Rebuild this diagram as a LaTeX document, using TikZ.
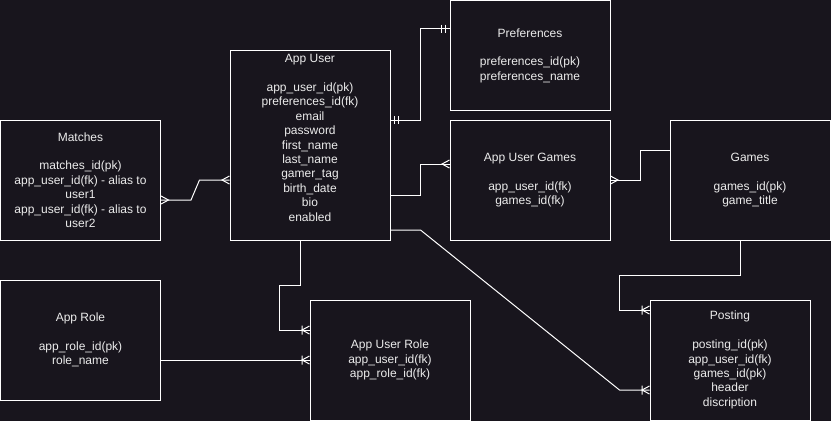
\documentclass[tikz,border=0pt]{standalone}
\usepackage{fontspec}
\setmainfont{Liberation Sans}
\definecolor{bgdark}{RGB}{24,21,29}
\definecolor{textc}{RGB}{236,236,236}

% ER line ends
\pgfdeclarearrow{
  name = crow,
  setup code = {
    \pgfarrowssettipend{0pt}
    \pgfarrowssetlineend{0pt}
    \pgfarrowssetbackend{-8pt}
    \pgfarrowshullpoint{0pt}{4pt}
    \pgfarrowshullpoint{0pt}{-4pt}
    \pgfarrowshullpoint{-8pt}{0pt}
  },
  drawing code = {
    \pgfpathmoveto{\pgfqpoint{0pt}{4pt}}
    \pgfpathlineto{\pgfqpoint{-7.5pt}{0pt}}
    \pgfpathlineto{\pgfqpoint{0pt}{-4pt}}
    \pgfusepathqstroke
  }
}
\pgfdeclarearrow{
  name = crowbar,
  setup code = {
    \pgfarrowssettipend{0pt}
    \pgfarrowssetlineend{0pt}
    \pgfarrowssetbackend{-9pt}
    \pgfarrowshullpoint{0pt}{5pt}
    \pgfarrowshullpoint{0pt}{-5pt}
    \pgfarrowshullpoint{-8pt}{5pt}
    \pgfarrowshullpoint{-8pt}{-5pt}
  },
  drawing code = {
    \pgfpathmoveto{\pgfqpoint{0pt}{4pt}}
    \pgfpathlineto{\pgfqpoint{-7.5pt}{0pt}}
    \pgfpathlineto{\pgfqpoint{0pt}{-4pt}}
    \pgfpathmoveto{\pgfqpoint{-7.5pt}{4.5pt}}
    \pgfpathlineto{\pgfqpoint{-7.5pt}{-4.5pt}}
    \pgfusepathqstroke
  }
}
\pgfdeclarearrow{
  name = mone,
  setup code = {
    \pgfarrowssettipend{0pt}
    \pgfarrowssetlineend{0pt}
    \pgfarrowssetbackend{-9pt}
    \pgfarrowshullpoint{0pt}{5pt}
    \pgfarrowshullpoint{0pt}{-5pt}
    \pgfarrowshullpoint{-8pt}{5pt}
    \pgfarrowshullpoint{-8pt}{-5pt}
  },
  drawing code = {
    \pgfpathmoveto{\pgfqpoint{-3.8pt}{4pt}}
    \pgfpathlineto{\pgfqpoint{-3.8pt}{-4pt}}
    \pgfpathmoveto{\pgfqpoint{-7.8pt}{4pt}}
    \pgfpathlineto{\pgfqpoint{-7.8pt}{-4pt}}
    \pgfusepathqstroke
  }
}

\begin{document}
\begin{tikzpicture}[x=1pt,y=-1pt]

\tikzset{mytable/.style={rectangle,minimum width=160pt,minimum height=120pt,inner sep=0pt,draw=white,line width=1pt,text=textc,align=center,font=\fontsize{12}{14.4}\selectfont},}
\tikzset{link/.style={white,line width=1pt},}

\fill[bgdark] (0,0) rectangle (831,421);
\useasboundingbox (0,0) rectangle (831,421);

%TABLES
\draw (310,145) node [mytable,minimum height=190pt] (appuser) {App User\\[14.4pt]app\_user\_id(pk)\\preferences\_id(fk)\\email\\password\\first\_name\\last\_name\\gamer\_tag\\birth\_date\\bio\\enabled\\[0pt]\mbox{}};
\draw (80.5,180) node [mytable] (matches) {Matches\\[14.4pt]matches\_id(pk)\\app\_user\_id(fk) - alias to\\user1\\app\_user\_id(fk) - alias to\\user2};
\draw (530,55.5) node [mytable,minimum height=110pt] (prefs) {Preferences\\[14.4pt]preferences\_id(pk)\\preferences\_name};
\draw (530,180) node [mytable] (usergames) {App User Games\\[14.4pt]app\_user\_id(fk)\\games\_id(fk)};
\draw (750,180) node [mytable] (games) {Games\\[14.4pt]games\_id(pk)\\game\_title};
\draw (80.5,340) node [mytable] (approle) {App Role\\[14.4pt]app\_role\_id(pk)\\role\_name};
\draw (390,360) node [mytable] (userrole) {App User Role\\app\_user\_id(fk)\\app\_role\_id(fk)};
\draw (730,360) node [mytable] (posting) {Posting\\[14.4pt]posting\_id(pk)\\app\_user\_id(fk)\\games\_id(pk)\\header\\discription};

%LINKS
\draw[link,mone-mone] ([yshift=25]appuser.east) -- ++(30,0) |- ([yshift=27]prefs.west);
\draw[link,-crow] ([yshift=-50]appuser.east) -- ++(30,0) |- ([yshift=16]usergames.west);
\draw[link,crow-] (usergames.east) -- ++(30,0) |- ([yshift=30]games.west);
\draw[link,-crowbar] ([yshift=-85]appuser.east) -- ++(30,0) -- ([xshift=-30,yshift=-30]posting.west) -- ([yshift=-30]posting.west);
\draw[link,-crowbar] ([xshift=-10]games.south) -- ++(0,35) -| ([xshift=-30,yshift=50]posting.west) -- ([yshift=50]posting.west);
\draw[link,-crowbar] ([xshift=-10]appuser.south) -- ++(0,45) -| ([xshift=-30,yshift=30]userrole.west) -- ([yshift=30]userrole.west);
\draw[link,-crowbar] ([yshift=-20]approle.east) -- (userrole.west);
\draw[link,crow-crow] ([yshift=-20]matches.east) -- ++(30,0) -- ([xshift=-30,yshift=-35]appuser.west) -- ([yshift=-35]appuser.west);

\end{tikzpicture}
\end{document}
